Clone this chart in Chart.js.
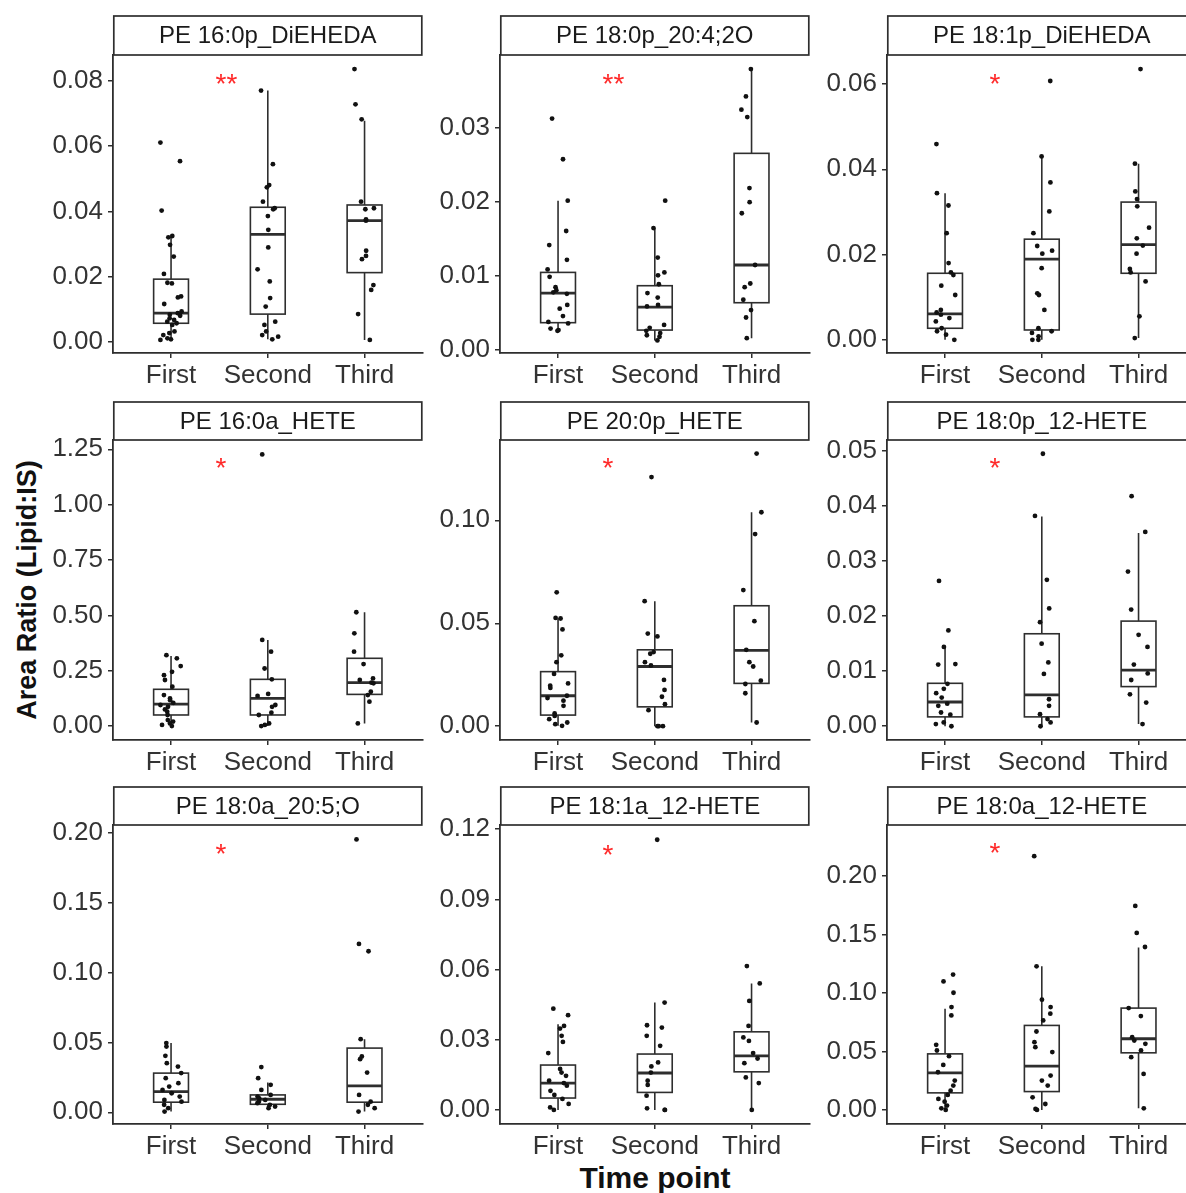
<!DOCTYPE html>
<html>
<head>
<meta charset="utf-8">
<script src="https://cdn.jsdelivr.net/npm/chart.js@4.4.1/dist/chart.umd.min.js"></script>
<style>
  html, body { margin: 0; padding: 0; background: white; overflow: hidden; }
  #wrap { position: relative; width: 1186px; height: 1193px; }
  #wrap canvas { position: absolute; }
  .ytitle { position: absolute; left: 27px; top: 590px; transform: translate(-50%, -50%) rotate(-90deg);
    font: bold 27px "Liberation Sans", Arial, sans-serif; color: #111; white-space: nowrap; }
  .xtitle { position: absolute; left: 655px; top: 1178px; transform: translate(-50%, -50%);
    font: bold 30px "Liberation Sans", Arial, sans-serif; color: #111; white-space: nowrap; }
</style>
</head>
<body>
<div id="wrap">
  <div class="ytitle">Area Ratio (Lipid:IS)</div>
  <div class="xtitle">Time point</div>
</div>
<script>
// Faceted box plots (3x3) with jittered points, one panel per lipid

const titles = ['PE 16:0p_DiEHEDA', 'PE 18:0p_20:4;2O', 'PE 18:1p_DiEHEDA',
                'PE 16:0a_HETE', 'PE 20:0p_HETE', 'PE 18:0p_12-HETE',
                'PE 18:0a_20:5;O', 'PE 18:1a_12-HETE', 'PE 18:0a_12-HETE'];
const groups = ['First', 'Second', 'Third'];

const yTicks = [
  [0, 0.02, 0.04, 0.06, 0.08],
  [0, 0.01, 0.02, 0.03],
  [0, 0.02, 0.04, 0.06],
  [0, 0.25, 0.5, 0.75, 1.0, 1.25],
  [0, 0.05, 0.10],
  [0, 0.01, 0.02, 0.03, 0.04, 0.05],
  [0, 0.05, 0.10, 0.15, 0.20],
  [0, 0.03, 0.06, 0.09, 0.12],
  [0, 0.05, 0.10, 0.15, 0.20]
];
const yMin = [-0.0033, -0.0004, -0.0031, -0.063, -0.0067, -0.0025, -0.0084, -0.006, -0.012];
const yMax = [0.0879, 0.0399, 0.0668, 1.292, 0.139, 0.052, 0.2055, 0.1218, 0.2434];

const firstVals = [
  [0.0611, 0.0554, 0.0403, 0.0325, 0.0321, 0.0298, 0.0262, 0.0209, 0.0182, 0.0180, 0.0140, 0.0137, 0.0117, 0.0094,
   0.0089, 0.0084, 0.0081, 0.0073, 0.0068, 0.0063, 0.0058, 0.0053, 0.0033, 0.0028, 0.0022, 0.0012, 0.0009, 0.0007],
  [0.0313, 0.0258, 0.0202, 0.0161, 0.0142, 0.0122, 0.0109, 0.0099, 0.0085, 0.0081, 0.0078, 0.0076, 0.0061, 0.0056,
   0.0046, 0.0038, 0.0036, 0.0029, 0.0027, 0.0026],
  [0.0459, 0.0344, 0.0315, 0.0250, 0.0180, 0.0158, 0.0152, 0.0127, 0.0105, 0.0070, 0.0064, 0.0059, 0.0051, 0.0043,
   0.0027, 0.0020, 0.0012, 0.0000],
  [0.320, 0.306, 0.271, 0.245, 0.230, 0.208, 0.178, 0.140, 0.125, 0.117, 0.105, 0.095, 0.087, 0.075, 0.065, 0.050,
   0.027, 0.020, 0.012, 0.005, 0.000],
  [0.0650, 0.0526, 0.0523, 0.0470, 0.0344, 0.0311, 0.0254, 0.0208, 0.0197, 0.0186, 0.0148, 0.0137, 0.0124, 0.0099,
   0.0062, 0.0050, 0.0034, 0.0018, 0.0010, 0.0002],
  [0.0264, 0.0174, 0.0144, 0.0113, 0.0112, 0.0077, 0.0068, 0.0060, 0.0052, 0.0041, 0.0037, 0.0025, 0.0021, 0.0007,
   0.0004, 0.0000],
  [0.0495, 0.0470, 0.0404, 0.0351, 0.0327, 0.0280, 0.0244, 0.0208, 0.0184, 0.0160, 0.0136, 0.0112, 0.0088, 0.0076,
   0.0053, 0.0029, 0.0005],
  [0.0433, 0.0405, 0.0359, 0.0348, 0.0317, 0.0291, 0.0243, 0.0175, 0.0160, 0.0146, 0.0125, 0.0115, 0.0104, 0.0082,
   0.0064, 0.0047, 0.0026, 0.0011, 0.0000],
  [0.1156, 0.1098, 0.1001, 0.0879, 0.0807, 0.0556, 0.0508, 0.0459, 0.0385, 0.0322, 0.0251, 0.0208, 0.0165, 0.0128,
   0.0094, 0.0071, 0.0037, 0.0014, 0.0000]
];
const secondVals = [
  [0.0770, 0.0545, 0.0481, 0.0474, 0.0430, 0.0410, 0.0407, 0.0386, 0.0344, 0.0290, 0.0223, 0.0186, 0.0135, 0.0109,
   0.0063, 0.0053, 0.0033, 0.0022, 0.0017, 0.0009],
  [0.0202, 0.0165, 0.0125, 0.0105, 0.0101, 0.0089, 0.0077, 0.0071, 0.0061, 0.0059, 0.0034, 0.0030, 0.0026, 0.0023,
   0.0020, 0.0018, 0.0013],
  [0.0607, 0.0430, 0.0369, 0.0301, 0.0250, 0.0220, 0.0209, 0.0202, 0.0168, 0.0109, 0.0105, 0.0070, 0.0027, 0.0020,
   0.0016, 0.0008, 0.0000, 0.0000],
  [1.227, 0.389, 0.336, 0.260, 0.211, 0.145, 0.136, 0.095, 0.087, 0.060, 0.050, 0.012, 0.005, 0.000],
  [0.1210, 0.0607, 0.0450, 0.0436, 0.0360, 0.0352, 0.0311, 0.0295, 0.0225, 0.0176, 0.0143, 0.0107, 0.0078, 0.0000,
   0.0000, 0.0000],
  [0.0495, 0.0382, 0.0266, 0.0214, 0.0189, 0.0150, 0.0116, 0.0095, 0.0049, 0.0037, 0.0022, 0.0013, 0.0007, 0.0000],
  [0.0323, 0.0244, 0.0196, 0.0160, 0.0124, 0.0112, 0.0100, 0.0088, 0.0076, 0.0065, 0.0053, 0.0041, 0.0029],
  [0.1155, 0.0459, 0.0362, 0.0352, 0.0317, 0.0274, 0.0203, 0.0186, 0.0160, 0.0125, 0.0107, 0.0061, 0.0007, 0.0000,
   0.0000],
  [0.2168, 0.1227, 0.0942, 0.0879, 0.0822, 0.0765, 0.0670, 0.0579, 0.0536, 0.0494, 0.0294, 0.0251, 0.0208, 0.0108,
   0.0051, 0.0009, 0.0000]
];
const thirdVals = [
  [0.0836, 0.0728, 0.0682, 0.0430, 0.0410, 0.0407, 0.0376, 0.0372, 0.0280, 0.0264, 0.0254, 0.0175, 0.0160, 0.0086,
   0.0007],
  [0.0380, 0.0343, 0.0325, 0.0315, 0.0219, 0.0200, 0.0185, 0.0115, 0.0090, 0.0085, 0.0068, 0.0054, 0.0044, 0.0016],
  [0.0635, 0.0413, 0.0348, 0.0330, 0.0313, 0.0263, 0.0238, 0.0221, 0.0202, 0.0166, 0.0158, 0.0137, 0.0055, 0.0004],
  [0.514, 0.419, 0.336, 0.280, 0.215, 0.208, 0.196, 0.193, 0.155, 0.140, 0.110, 0.012],
  [0.1324, 0.1039, 0.0933, 0.0661, 0.0510, 0.0371, 0.0311, 0.0290, 0.0221, 0.0205, 0.0160, 0.0018],
  [0.0418, 0.0353, 0.0281, 0.0212, 0.0166, 0.0144, 0.0112, 0.0096, 0.0084, 0.0058, 0.0043, 0.0004],
  [0.1952, 0.1204, 0.1152, 0.0523, 0.0399, 0.0380, 0.0284, 0.0124, 0.0076, 0.0053, 0.0029, 0.0005],
  [0.0615, 0.0541, 0.0466, 0.0359, 0.0310, 0.0295, 0.0243, 0.0220, 0.0200, 0.0139, 0.0115, 0.0000],
  [0.1743, 0.1512, 0.1392, 0.0870, 0.0802, 0.0622, 0.0593, 0.0565, 0.0508, 0.0451, 0.0308, 0.0014]
];

// box statistics per panel: [First, Second, Third]
const boxLow = [[0.0007, 0.0009, 0.0007], [0.0027, 0.0013, 0.0016], [0.0000, 0.0000, 0.0004],
                [0.005, 0.000, 0.012], [0.0002, 0.0000, 0.0018], [0.0000, 0.0000, 0.0004],
                [0.0005, 0.0029, 0.0005], [0.0000, 0.0000, 0.0000], [0.0000, 0.0000, 0.0014]];
const boxQ1 = [[0.0058, 0.0086, 0.0213], [0.0037, 0.0027, 0.0064], [0.0027, 0.0023, 0.0156],
               [0.050, 0.050, 0.143], [0.0054, 0.0094, 0.0208], [0.0017, 0.0017, 0.0072],
               [0.0072, 0.0057, 0.0072], [0.0051, 0.0075, 0.0163], [0.0146, 0.0157, 0.0488]];
const boxMed = [[0.0089, 0.0330, 0.0372], [0.0077, 0.0058, 0.0115], [0.0061, 0.0189, 0.0223],
                [0.099, 0.125, 0.196], [0.0148, 0.0290, 0.0368], [0.0044, 0.0057, 0.0102],
                [0.0148, 0.0093, 0.0189], [0.0115, 0.0158, 0.0231], [0.0317, 0.0374, 0.0608]];
const boxQ3 = [[0.0193, 0.0413, 0.0420], [0.0105, 0.0087, 0.0266], [0.0156, 0.0236, 0.0323],
               [0.166, 0.211, 0.306], [0.0265, 0.0371, 0.0585], [0.0078, 0.0168, 0.0191],
               [0.0280, 0.0124, 0.0459], [0.0192, 0.0239, 0.0334], [0.0479, 0.0722, 0.0870]];
const boxHigh = [[0.0323, 0.0770, 0.0678], [0.0202, 0.0165, 0.0380], [0.0344, 0.0430, 0.0413],
                 [0.316, 0.389, 0.514], [0.0523, 0.0607, 0.1039], [0.0143, 0.0381, 0.0351],
                 [0.0495, 0.0213, 0.0523], [0.0366, 0.0459, 0.0541], [0.0864, 0.1227, 0.1387]];

const starText = ['**', '**', '*', '*', '*', '*', '*', '*', '*'];
const starY = [0.0810, 0.0369, 0.0616, 1.194, 0.1288, 0.0482, 0.1892, 0.1119, 0.2248];

// ---------- layout ----------
const plotLeft = [113, 500, 887];
const plotW = 310;
const stripTop = [16, 402, 787];
const plotTop = [55, 440, 825];
const plotBottom = [353, 740, 1124];
const AXIS_W = 113, X_H = 46;

const FONT = '"Liberation Sans", Arial, sans-serif';
const INK = '#2e2e2e';

// deterministic horizontal jitter (x offset only)
function jitter(p, g, i) {
  const s = Math.sin(i * 12.9898 + g * 78.233 + p * 37.719) * 43758.5453;
  return ((s - Math.floor(s)) - 0.5) * 0.22;
}

const boxPlugin = {
  id: 'boxes',
  beforeDatasetsDraw(chart, args, opts) {
    const p = opts.panel;
    const x = chart.scales.x, y = chart.scales.y, ctx = chart.ctx;
    ctx.save();
    ctx.strokeStyle = INK;
    for (let g = 0; g < 3; g++) {
      const cx = x.getPixelForValue(g + 1);
      const l = x.getPixelForValue(g + 1 - 0.18), r = x.getPixelForValue(g + 1 + 0.18);
      const q1 = y.getPixelForValue(boxQ1[p][g]), q3 = y.getPixelForValue(boxQ3[p][g]);
      ctx.lineWidth = 1.6;
      ctx.beginPath();
      ctx.moveTo(cx, q3); ctx.lineTo(cx, y.getPixelForValue(boxHigh[p][g]));
      ctx.moveTo(cx, q1); ctx.lineTo(cx, y.getPixelForValue(boxLow[p][g]));
      ctx.stroke();
      ctx.fillStyle = 'white';
      ctx.fillRect(l, q3, r - l, q1 - q3);
      ctx.strokeRect(l, q3, r - l, q1 - q3);
      ctx.lineWidth = 2.8;
      const m = y.getPixelForValue(boxMed[p][g]);
      ctx.beginPath(); ctx.moveTo(l, m); ctx.lineTo(r, m); ctx.stroke();
    }
    ctx.restore();
  },
  afterDatasetsDraw(chart, args, opts) {
    const p = opts.panel;
    const x = chart.scales.x, y = chart.scales.y, ctx = chart.ctx;
    ctx.save();
    ctx.fillStyle = '#ff2a2a';
    ctx.font = '28px ' + FONT;
    ctx.textAlign = 'left';
    ctx.textBaseline = 'alphabetic';
    ctx.fillText(starText[p], x.getPixelForValue(1.46), y.getPixelForValue(starY[p]) + 0.56 * 28);
    // facet strip
    const a = chart.chartArea, st = opts.stripTop;
    ctx.fillStyle = 'white';
    ctx.fillRect(a.left, st, a.right - a.left, a.top - st);
    ctx.strokeStyle = INK;
    ctx.lineWidth = 1.7;
    ctx.strokeRect(a.left + 0.8, st, a.right - a.left - 1.6, a.top - st);
    ctx.fillStyle = '#1a1a1a';
    ctx.font = '24px ' + FONT;
    ctx.textAlign = 'center';
    ctx.textBaseline = 'middle';
    ctx.fillText(titles[p], (a.left + a.right) / 2, (st + a.top) / 2 + 1);
    ctx.restore();
  }
};

const wrap = document.getElementById('wrap');
for (let p = 0; p < 9; p++) {
  const row = Math.floor(p / 3), col = p % 3;
  const cLeft = plotLeft[col] - AXIS_W;
  const cTop = stripTop[row] - 2;
  const cW = AXIS_W + plotW + 2;
  const cH = plotBottom[row] - cTop + X_H;
  const cv = document.createElement('canvas');
  cv.width = cW; cv.height = cH;
  cv.style.left = cLeft + 'px'; cv.style.top = cTop + 'px';
  cv.style.width = cW + 'px'; cv.style.height = cH + 'px';
  wrap.appendChild(cv);

  const pts = [];
  [firstVals[p], secondVals[p], thirdVals[p]].forEach(function (vals, g) {
    vals.forEach(function (v, i) { pts.push({ x: g + 1 + jitter(p, g, i), y: v }); });
  });

  new Chart(cv.getContext('2d'), {
    type: 'scatter',
    data: { datasets: [{ data: pts, pointRadius: 2.4, pointBackgroundColor: '#111',
                         pointBorderWidth: 0, pointHoverRadius: 2.4 }] },
    options: {
      responsive: false, animation: false, events: [],
      layout: { padding: { top: plotTop[row] - cTop, right: 2, left: 0, bottom: 0 } },
      plugins: { legend: { display: false }, tooltip: { enabled: false },
                 boxes: { panel: p, stripTop: 2 } },
      scales: {
        x: {
          type: 'linear', min: 0.4, max: 3.6,
          afterBuildTicks: function (s) { s.ticks = [1, 2, 3].map(function (v) { return { value: v }; }); },
          afterFit: function (s) { s.height = X_H; },
          grid: { drawOnChartArea: false, drawTicks: true, tickLength: 5, color: INK, lineWidth: 1.5 },
          border: { display: true, color: INK, width: 1.8 },
          ticks: { callback: function (v) { return groups[v - 1]; }, color: '#333',
                   font: { family: FONT, size: 26 }, padding: 2, maxRotation: 0, autoSkip: false }
        },
        y: {
          min: yMin[p], max: yMax[p],
          afterBuildTicks: function (s) { s.ticks = yTicks[p].map(function (v) { return { value: v }; }); },
          afterFit: function (s) { s.width = AXIS_W; },
          grid: { drawOnChartArea: false, drawTicks: true, tickLength: 5, color: INK, lineWidth: 1.5 },
          border: { display: true, color: INK, width: 1.8 },
          ticks: { callback: function (v) { return v.toFixed(2); }, color: '#333',
                   font: { family: FONT, size: 26 }, padding: 5 }
        }
      }
    },
    plugins: [boxPlugin]
  });
}
</script>
</body>
</html>
